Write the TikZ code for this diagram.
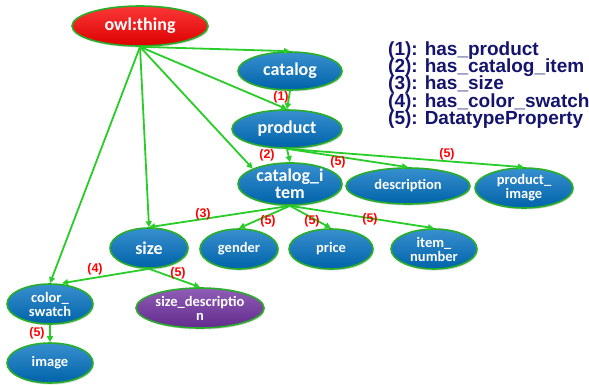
\documentclass[tikz,border=0pt]{standalone}
\usepackage{fontspec}
\usetikzlibrary{shapes.geometric,arrows.meta,shadows}
\newfontfamily\nodefont{Carlito}
\newfontfamily\legendfont{Liberation Sans}
\newcommand\keyfont{\legendfont\bfseries\fontsize{19}{17.2}\selectfont\lineskiplimit=-20pt\relax}
\definecolor{nodeblue}{RGB}{0,112,192}
\definecolor{thingred}{RGB}{250,0,0}
\definecolor{descpurple}{RGB}{112,48,160}
\definecolor{edgegreen}{RGB}{40,205,40}
\definecolor{rimgreen}{RGB}{40,175,40}
\definecolor{legendblue}{RGB}{20,20,110}
\tikzset{
  ont/.style={ellipse, draw=rimgreen, line width=1.6pt, inner sep=0pt, align=center,
    text=white, top color=#1!78!white, middle color=#1, bottom color=#1!88!black,
    drop shadow={opacity=0.3, shadow xshift=1pt, shadow yshift=-1.5pt},
    font=\nodefont\bfseries\fontsize{18}{17}\selectfont},
  ont/.default=nodeblue,
  leaf/.style={ont=#1, font=\nodefont\bfseries\fontsize{14.5}{14}\selectfont},
  leaf/.default=nodeblue,
  rel/.style={draw=edgegreen, line width=1.8pt, -{Triangle[length=6pt,width=6pt]}},
  relno/.style={text=red, inner sep=0pt, font=\legendfont\bfseries\fontsize{12.5}{12}\selectfont},
}
\begin{document}
\begin{tikzpicture}[x=1pt, y=-1pt]
  \useasboundingbox (0,0) rectangle (589,384);

  % Classes
  \node[ont=thingred, minimum width=136pt, minimum height=40pt] (thing) at (140,26) {owl:thing};
  \node[ont, minimum width=104pt, minimum height=38pt] (catalog) at (290,71) {catalog};
  \node[ont, minimum width=110pt, minimum height=38pt] (product) at (287,129) {product};
  \node[ont, minimum width=104pt, minimum height=38pt] (item) at (290,184) {catalog\_i\\tem};
  \node[ont, minimum width=78pt, minimum height=40pt] (size) at (149,248) {size};
  \node[leaf, minimum width=86pt, minimum height=40pt] (swatch) at (50,304) {color\_\\swatch};

  % Datatype properties
  \node[leaf, minimum width=124pt, minimum height=36pt] (description) at (408,186) {description};
  \node[leaf, minimum width=98pt, minimum height=40pt] (prodimage) at (524,188) {product\_\\image};
  \node[leaf, minimum width=78pt, minimum height=40pt] (gender) at (239,249) {gender};
  \node[leaf, minimum width=84pt, minimum height=40pt] (price) at (331,249) {price};
  \node[leaf, minimum width=86pt, minimum height=40pt] (itemnum) at (434,249) {item\_\\number};
  \node[leaf=descpurple, minimum width=128pt, minimum height=40pt] (sizedesc) at (200,308) {size\_descriptio\\n};
  \node[leaf, minimum width=86pt, minimum height=40pt] (image) at (50,363) {image};

  % Links from owl:thing
  \draw[rel] (thing.south) -- (catalog.north);
  \draw[rel] (thing.south) -- (product.north);
  \draw[rel] (thing.south) -- (item.north west);
  \draw[rel] (thing.south) -- (size.north);
  \draw[rel] (thing.south) -- (swatch.north);

  % Object and datatype properties
  \draw[rel] (catalog.south) -- (product.north);
  \draw[rel] (product.south) -- (item.north);
  \draw[rel] (product.south) -- (description.north);
  \draw[rel] (product.south) -- (prodimage.north);
  \draw[rel] (item.south) -- (size.north);
  \draw[rel] (item.south) -- (gender.north);
  \draw[rel] (item.south) -- (price.north);
  \draw[rel] (item.south) -- (itemnum.north);
  \draw[rel] (size.south) -- ([xshift=12pt]swatch.north);
  \draw[rel] (size.south) -- (sizedesc.north);
  \draw[rel] (swatch.south) -- (image.north);

  % Property numbers
  \node[relno] (n1) at (281,97) {(1)};
  \node[relno] (n2) at (267,155) {(2)};
  \node[relno] (n5a) at (338,162) {(5)};
  \node[relno] (n5b) at (447,154) {(5)};
  \node[relno] (n3) at (203,214) {(3)};
  \node[relno] (n5c) at (268,221) {(5)};
  \node[relno] (n5d) at (312,221) {(5)};
  \node[relno] (n5e) at (370,219) {(5)};
  \node[relno] (n4) at (95,269) {(4)};
  \node[relno] (n5f) at (178,273) {(5)};
  \node[relno] (n5g) at (37,333) {(5)};

  % Legend
  \node[anchor=north west, inner sep=0pt, align=left, text=legendblue, font=\keyfont] (key) at (388,41.5)
    {(1): has\_product\\(2): has\_catalog\_item\\(3): has\_size\\(4): has\_color\_swatch\\(5): DatatypeProperty};
\end{tikzpicture}
\end{document}
